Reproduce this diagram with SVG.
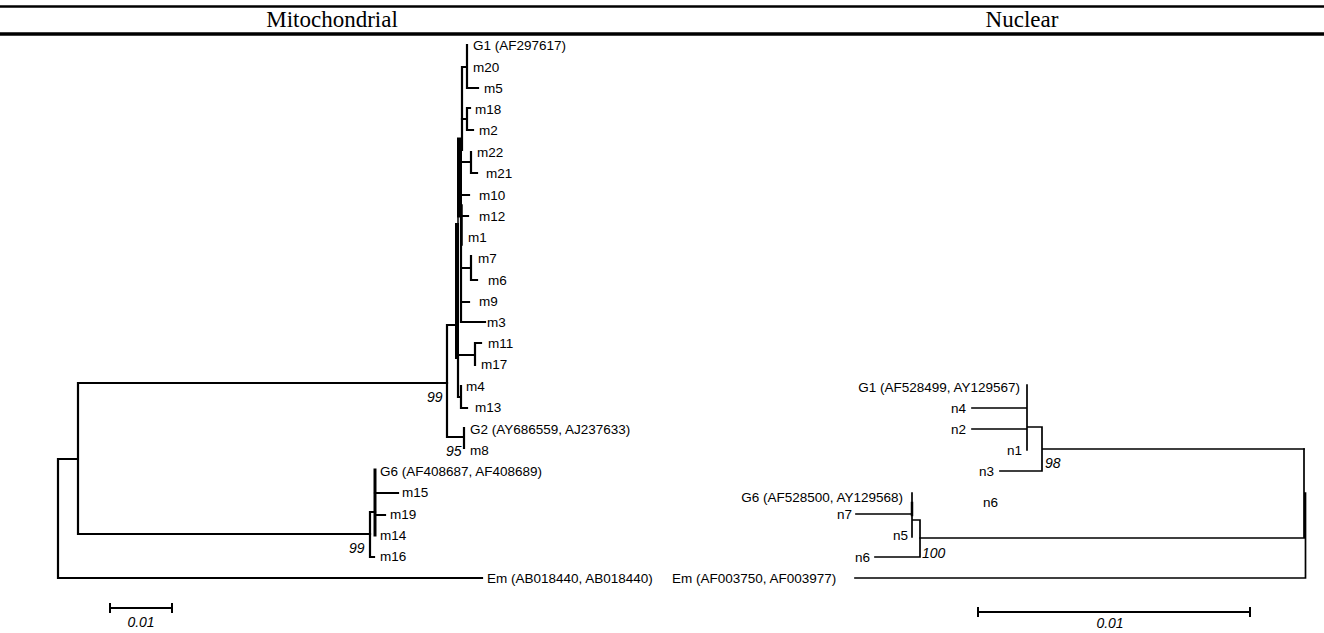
<svg xmlns="http://www.w3.org/2000/svg" width="1324" height="633" viewBox="0 0 1324 633">
<style>
.lbl{font-family:"Liberation Sans",Arial,sans-serif;font-size:13.5px;fill:#000}
.end{text-anchor:end}
.bs{font-family:"Liberation Sans",Arial,sans-serif;font-size:14px;font-style:italic;fill:#000}
.hdr{font-family:"Liberation Serif","Times New Roman",serif;font-size:23px;fill:#000;text-anchor:middle}
.br{stroke:#000;stroke-width:2.2;fill:none;stroke-linecap:square}
.nb{stroke:#000;stroke-width:1.7;fill:none;stroke-linecap:square}
</style>
<rect width="1324" height="633" fill="#fff"/>
<g id="header">
<line x1="0" y1="6.5" x2="1324" y2="6.5" stroke="#000" stroke-width="2.5"/>
<line x1="0" y1="34" x2="1324" y2="34" stroke="#000" stroke-width="3.5"/>
<text class="hdr" x="332" y="27">Mitochondrial</text>
<text class="hdr" x="1022" y="27">Nuclear</text>
</g>
<g id="connectors">
<g id="mito-branches" class="br">
<path d="M58,459V578H482M58,459H78M78,383V534M78,383H447M78,534H370"/>
<path d="M447,325V437M447,325H457M447,437H464M464,428V448"/>
<path d="M467,45V88H478M462,67H467M462,67V150"/>
<path d="M467,108V130H473M467,108H470M462,119H467"/>
<path d="M459.5,140V215" stroke-width="5"/>
<path d="M471,152V173H477M462,162H471M462,195H469M461,216H468"/>
<path d="M458,205V245M462,205V245" stroke-width="1.5"/>
<path d="M461,215V322H485M461,268H471M471,256V280H477M461,302H469"/>
<path d="M457,225V357" stroke-width="4"/>
<path d="M458,357V397H461M461,386V408H467M458,355H475M475,343V365M475,343H481"/>
<path d="M370,512V557H374M370,512H375M376,515H385M375,493H398"/>
<path d="M375,470V535" stroke-width="3"/>
</g>
<g id="nuc-branches" class="nb">
<path d="M1027,385V450M972,408H1027M972,429H1027M1027,427H1042M1042,427V471M1000,471H1042M1042,449H1304"/>
<path d="M1304,449V538M920,538H1304M1305.5,493V578M855,578H1305.5"/>
<path d="M912,493V537M856,514H912M912,520H920M920,520V557M875,557H920"/>
<path d="M912,503V515" stroke-width="2.5"/>
</g>
</g>
<g id="mito-tips">
<text class="lbl" x="473" y="50">G1 (AF297617)</text>
<text class="lbl" x="473" y="72">m20</text>
<text class="lbl" x="484" y="93">m5</text>
<text class="lbl" x="475" y="114">m18</text>
<text class="lbl" x="479" y="135">m2</text>
<text class="lbl" x="477" y="157">m22</text>
<text class="lbl" x="486" y="178">m21</text>
<text class="lbl" x="479" y="200">m10</text>
<text class="lbl" x="479" y="221">m12</text>
<text class="lbl" x="468" y="242">m1</text>
<text class="lbl" x="478" y="263">m7</text>
<text class="lbl" x="488" y="285">m6</text>
<text class="lbl" x="479" y="306">m9</text>
<text class="lbl" x="487" y="327">m3</text>
<text class="lbl" x="488" y="348">m11</text>
<text class="lbl" x="481" y="369">m17</text>
<text class="lbl" x="466" y="391">m4</text>
<text class="lbl" x="475" y="412">m13</text>
<text class="lbl" x="470" y="434">G2 (AY686559, AJ237633)</text>
<text class="lbl" x="470" y="455">m8</text>
<text class="lbl" x="380" y="476">G6 (AF408687, AF408689)</text>
<text class="lbl" x="402" y="497">m15</text>
<text class="lbl" x="390" y="519">m19</text>
<text class="lbl" x="380" y="540">m14</text>
<text class="lbl" x="380" y="561">m16</text>
<text class="lbl" x="487" y="583">Em (AB018440, AB018440)</text>
<text class="bs" x="427" y="402">99</text>
<text class="bs" x="446" y="456">95</text>
<text class="bs" x="349" y="553">99</text>
</g>
<g id="nuc-tips">
<text class="lbl end" x="1020" y="392">G1 (AF528499, AY129567)</text>
<text class="lbl end" x="966" y="413">n4</text>
<text class="lbl end" x="966" y="434">n2</text>
<text class="lbl end" x="1022" y="455">n1</text>
<text class="lbl end" x="994" y="476">n3</text>
<text class="lbl end" x="903" y="502">G6 (AF528500, AY129568)</text>
<text class="lbl end" x="852" y="519">n7</text>
<text class="lbl end" x="908" y="540">n5</text>
<text class="lbl end" x="870" y="562">n6</text>
<text class="lbl" x="983" y="507">n6</text>
<text class="lbl" x="672" y="583">Em (AF003750, AF003977)</text>
<text class="bs" x="1045" y="468">98</text>
<text class="bs" x="922" y="558">100</text>
</g>
<g id="scale-bars">
<path d="M110,608H172M110,603V613M172,603V613" stroke="#000" stroke-width="2"/>
<text class="bs" x="141" y="627" text-anchor="middle">0.01</text>
<path d="M978,612H1250M978,607V617M1250,607V617" stroke="#000" stroke-width="2"/>
<text class="bs" x="1110" y="628" text-anchor="middle">0.01</text>
</g>
</svg>
